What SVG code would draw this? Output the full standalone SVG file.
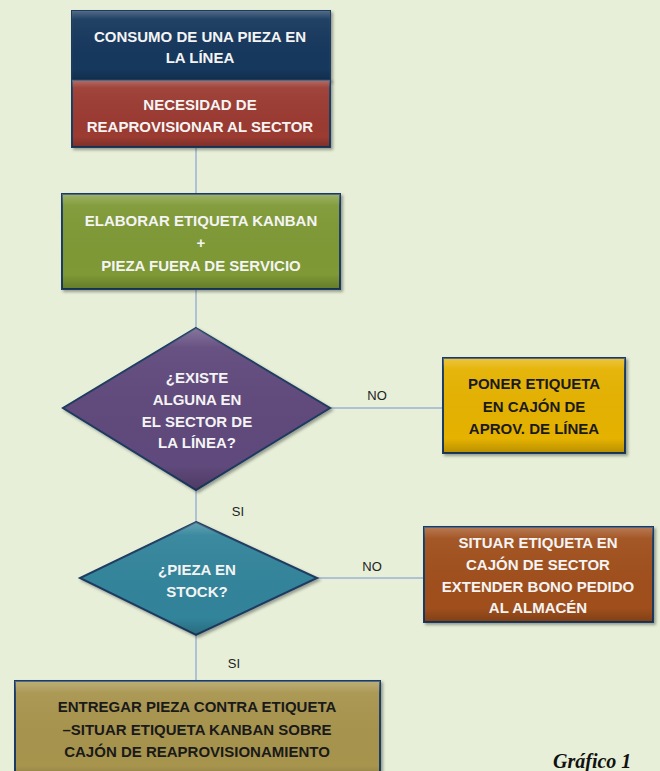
<svg xmlns="http://www.w3.org/2000/svg" width="660" height="771" viewBox="0 0 660 771">
<defs>
<linearGradient id="sheen" x1="0" y1="0" x2="0" y2="1">
<stop offset="0" stop-color="#fff" stop-opacity="0.25"/>
<stop offset="0.12" stop-color="#fff" stop-opacity="0.05"/>
<stop offset="0.85" stop-color="#000" stop-opacity="0"/>
<stop offset="1" stop-color="#000" stop-opacity="0.2"/>
</linearGradient>
<filter id="sh" x="-10%" y="-10%" width="120%" height="130%">
<feDropShadow dx="2" dy="2" stdDeviation="1.5" flood-color="#000" flood-opacity="0.35"/>
</filter>
</defs>
<style>
.box{stroke:#1F3A60;stroke-width:2;filter:url(#sh)}
.gl{fill:url(#sheen);stroke:none}
.t{font-family:"Liberation Sans",Arial,sans-serif;font-weight:bold;font-size:15px;text-anchor:middle}
.w{fill:#F4F4F4}
.k{fill:#1A1A1A}
.lbl{font-family:"Liberation Sans",Arial,sans-serif;font-size:13px;fill:#222;text-anchor:middle}
.c{stroke:#AFC1D4;stroke-width:2;fill:none}
</style>
<rect width="660" height="771" fill="#E7EFD8"/>
<g id="connectors">
<line class="c" x1="196" y1="147" x2="196" y2="194"/>
<line class="c" x1="196" y1="289" x2="196" y2="328"/>
<line class="c" x1="330" y1="408" x2="442" y2="408"/>
<line class="c" x1="196" y1="490" x2="196" y2="522"/>
<line class="c" x1="317" y1="578" x2="423" y2="578"/>
<line class="c" x1="196" y1="635" x2="196" y2="681"/>
<text class="lbl" x="377" y="400">NO</text>
<text class="lbl" x="238" y="516">SI</text>
<text class="lbl" x="372" y="571">NO</text>
<text class="lbl" x="234" y="668">SI</text>
</g>
<g id="consumo">
<rect class="box" x="72" y="11" width="258" height="69" fill="#18375D"/>
<rect class="gl" x="72" y="11" width="258" height="69"/>
<text class="t w" x="200" y="42">CONSUMO DE UNA PIEZA EN</text>
<text class="t w" x="200" y="63">LA LÍNEA</text>
</g>
<g id="necesidad">
<rect class="box" x="72" y="80" width="258" height="67" fill="#9B3A33"/>
<rect class="gl" x="72" y="80" width="258" height="67"/>
<text class="t w" x="200" y="110">NECESIDAD DE</text>
<text class="t w" x="200" y="132">REAPROVISIONAR AL SECTOR</text>
</g>
<g id="elaborar">
<rect class="box" x="62" y="194" width="278" height="95" fill="#7E9934"/>
<rect class="gl" x="62" y="194" width="278" height="95"/>
<text class="t w" x="201" y="226">ELABORAR ETIQUETA KANBAN</text>
<text class="t w" x="201" y="248">+</text>
<text class="t w" x="201" y="271">PIEZA FUERA DE SERVICIO</text>
</g>
<g id="existe">
<polygon class="box" points="196,328 330,408 196,490 63,408" fill="#604A7B"/>
<polygon class="gl" points="196,328 330,408 196,490 63,408"/>
<text class="t w" x="197" y="383">¿EXISTE</text>
<text class="t w" x="197" y="405">ALGUNA EN</text>
<text class="t w" x="197" y="427">EL SECTOR DE</text>
<text class="t w" x="197" y="448">LA LÍNEA?</text>
</g>
<g id="poner">
<rect class="box" x="443" y="358" width="182" height="95" fill="#E5B200"/>
<rect class="gl" x="443" y="358" width="182" height="95"/>
<text class="t k" x="534" y="389">PONER ETIQUETA</text>
<text class="t k" x="534" y="412">EN CAJÓN DE</text>
<text class="t k" x="534" y="434">APROV. DE LÍNEA</text>
</g>
<g id="stock">
<polygon class="box" points="196,522 317,578 196,635 80,578" fill="#31849B"/>
<polygon class="gl" points="196,522 317,578 196,635 80,578"/>
<text class="t w" x="197" y="575">¿PIEZA EN</text>
<text class="t w" x="197" y="597">STOCK?</text>
</g>
<g id="situar">
<rect class="box" x="424" y="527" width="229" height="95" fill="#A0501C"/>
<rect class="gl" x="424" y="527" width="229" height="95"/>
<text class="t w" x="538" y="548">SITUAR ETIQUETA EN</text>
<text class="t w" x="538" y="570">CAJÓN DE SECTOR</text>
<text class="t w" x="538" y="592">EXTENDER BONO PEDIDO</text>
<text class="t w" x="538" y="613">AL ALMACÉN</text>
</g>
<g id="entregar">
<rect class="box" x="15" y="681" width="365" height="100" fill="#A7944E"/>
<rect class="gl" x="15" y="681" width="365" height="100"/>
<text class="t k" x="197" y="712">ENTREGAR PIEZA CONTRA ETIQUETA</text>
<text class="t k" x="197" y="735">–SITUAR ETIQUETA  KANBAN SOBRE</text>
<text class="t k" x="197" y="757">CAJÓN DE REAPROVISIONAMIENTO</text>
</g>
<text x="553" y="768" font-family="'Liberation Serif','Times New Roman',serif" font-weight="bold" font-style="italic" font-size="20" fill="#111">Gráfico 1</text>
</svg>
